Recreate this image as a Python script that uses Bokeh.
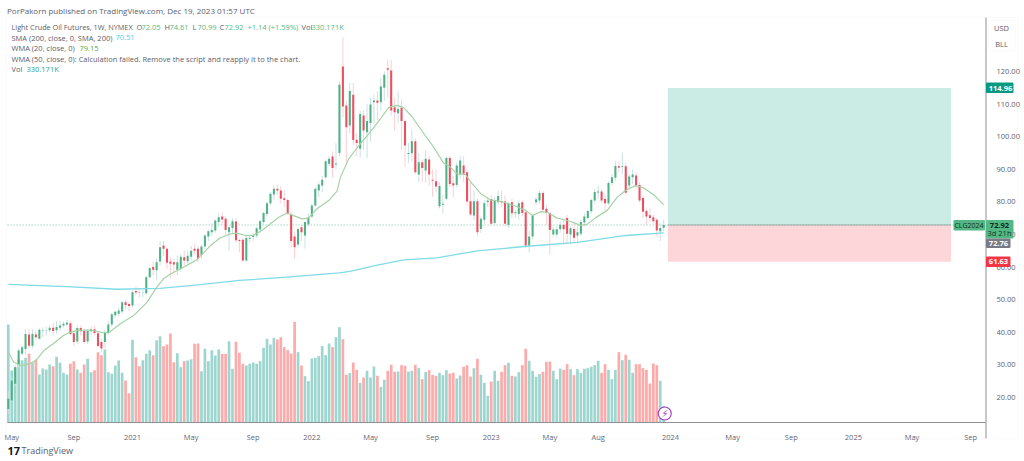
from bokeh.plotting import figure
from bokeh.embed import file_html
from bokeh.resources import INLINE
from bokeh.models import Range1d, FixedTicker, Label, BoxAnnotation, ColumnDataSource

opens = [16.5,19.1,24.2,30.3,33.4,34.9,39.3,35.9,39.3,38,
40.5,40.6,40.6,41.4,40.6,41.4,42.1,42.4,42.8,39.7,
37.2,41.3,40.4,37.2,40.3,40.9,39.7,37,37,39.8,
42.4,45.2,45.7,46.4,49.2,48.7,48.2,52.7,52.2,52.1,
52,56.9,60,59,61.7,66.6,65.6,61.7,61.5,59.2,
59.5,63,61.8,63.2,65.6,65.6,63.8,66.3,69.4,70.7,
71.2,73.8,75.5,74.8,70.7,72,74,68.3,68.4,62,
68.7,69.2,69.7,71.5,73.8,76.3,79.6,82.3,84,83.5,
81.1,80.6,76.1,69.4,66.9,72.2,69.7,73.1,75.5,78.9,
83.5,85,87.6,91.7,93.9,91.5,95,121.5,109.6,103.4,
112.9,99.1,96.3,106.5,101.4,104.2,110.6,111.1,110.6,115,
121,120.3,109,107.2,108.9,104.8,94.7,94.9,98.6,88.4,
92.2,89.6,93,86.8,86.3,78.7,79.1,81,93.5,85.7,
85.2,88.4,91.2,89.1,80.2,75.8,80.2,71.7,74.5,80,
80.9,73.5,79.9,80.2,80.1,72.9,79.9,76.5,76.3,79.9,
76.8,66.6,69.4,79.9,80.4,82.7,77.9,76.6,70,70,
71.6,73,75.1,70,71.7,69.7,70.2,73.7,75.1,77.1,
80.4,82.9,83.2,80.9,79.6,85.8,87.4,90.9,90.8,90.9,
85,87.6,88.1,85.2,81.2,77.2,75.9,75.3,74.5,71,72.05]

closes = [19.6,25.2,29.3,34.4,35.4,39.5,35.9,39.5,38.5,40.8,
40.6,40.7,41.4,40.4,41.6,42.1,42.6,43,39.5,37,
41.3,40.3,37,40.4,40.9,39.8,35.8,35,40,42.4,
45.5,46.3,46.7,49.2,48.4,48.1,52.3,52.2,52.1,52.2,
56.9,59.7,59.2,61.5,66.1,65.6,61.3,61,60.8,61.5,
63.2,62,63.5,65,65,62.5,66.3,69.7,71,71.4,
74.3,75.3,74.6,71.4,72.2,74.1,68.2,68,62,68.9,
69,69.7,71.9,74.1,76.6,79.6,82.5,84,83.5,81,
80.6,76.3,68,66.1,71.7,70.7,73.8,75.3,78.9,84,
85.3,86.8,92.5,93.2,90.4,91.8,115.9,109.3,102.9,114,
99,98.1,107,101.9,104.8,109.9,111.1,110.4,115.4,119,
120.5,108,107.5,108.5,104.8,97.3,95,98.6,89.1,92.2,
90.4,93.2,88.4,86.5,84.7,84.9,79.4,93.5,85.5,85,
91.2,92.7,88.6,80.1,76.1,80.2,70.7,74.8,79.6,80.4,
73.3,80.4,81.8,79.8,73.3,79.4,76.5,76.8,79.6,76.6,
66.6,69.4,75.8,80.7,82.7,77.6,76.6,71.4,71.5,71.6,
73,71.6,70.2,71.9,69,70.7,73.8,75.5,77.2,80.6,
83,83.2,80.4,79.6,85.8,87.6,91,90.5,91,82.8,
87.8,88.4,85,80.4,77,75.5,75.1,74.1,71.2,72,72.92]

highs = [22,26,30,35,36,41,41,41,40.5,41.2,
41.5,41.7,42.2,43,43.5,43.4,43.3,43.8,43.5,40,
42,42,41,41,41.8,42,40.3,38,40.7,43.5,
46,46.6,47.7,49.5,50,49.3,52.8,54,53.5,53,
57.4,60,61.5,62.8,67.8,68,66,63,62.5,63.5,
64,65,65,66.5,67,66.5,67,70.2,71.5,73.5,
74.6,76.5,76.8,75.5,72.5,75,75,68.8,69,70,
70,70.5,72.5,74.5,77,80,83,85,85.3,85,
83.5,81,77,71,72.2,73,74,76.5,79.5,84.5,
86,88,93,94,95.5,98,117,130.5,111,116.5,
116.5,101,108,108,110,112,113,114,118,120,
123.5,123.5,112,114,111.5,105,98,102,99.5,95,
93,96,94,90,90,86,82,94,94,88,
92,94,94,90,86,83.5,81,75.5,80.5,81.5,
82,81.5,83.5,83.5,82,80,81,77.5,80.5,80.5,
77.5,71,76.3,81.5,83.5,83.3,79,77,72.5,72.5,
74,75,76,72.5,74,73,74.5,76.5,77.7,81,
84,85,84,82,86.3,88.5,92.5,92.5,95.1,92,
88.5,90,89,86,82,78,78,76,75,73.5,74.61]

lows = [15,18.5,23.5,29,33,33,34.9,35,37.8,37.8,
38.5,39,40,39,39.5,40.5,41.5,41.8,39,35.8,
36.5,39,36.5,36.5,39,39,35.5,33.8,35,39.3,
41.7,44.5,45,45.7,47,46.5,47.7,51.5,50.7,50.8,
51.5,56.5,57.5,56,60.5,63.5,59.5,56.5,57.8,57.5,
58.5,60.5,61,62,64,61.5,62.5,65.5,68,69.5,
70.5,72.5,73,70,65,70.5,67.5,64.5,61.5,61.5,
67.5,68,69,70.5,73,75.5,79,80.5,82,79.5,
78.5,76,66,62.5,66,68,65.7,72.5,75,78.5,
81.5,83,87,91,87.5,90,94,106,92,101,
97.5,94,93.5,96,93.5,98.5,104,105,108,111,
112,106.5,101.8,104,96,90.8,92,92.5,88.5,86,
86,86,85,81.5,83,78,76.5,80.5,84.5,81.5,
84.5,87,86,79,75.5,74.5,69.5,70.5,73,78.5,
72.5,72.5,79,78.5,72.5,72,75,75,74.5,75.5,
65.8,64.5,68.5,79,79.5,77,73,63.7,69.3,69,
70.5,67,67.5,67,67.5,67.5,69.5,72.5,74.5,76.5,
79.5,81,79.5,77.5,79,85,86.5,89,88.5,82,
84,85.5,84,79.8,75,73,74,73,69.5,68,70.99]

volumes = [1960,1040,1107,1260,1247,1294,1374,1194,1260,960,
1080,1060,1160,1127,1314,1194,994,960,1174,1227,
1060,994,1160,1274,1007,1047,1407,1347,1460,1007,
974,1140,1240,994,840,587,1654,1307,1127,1247,
1374,1447,1347,1647,1727,1527,1560,1781,1207,1387,
1107,1227,1240,1267,1574,1581,1027,1474,1227,1447,
1340,1460,1374,1374,1627,1074,1614,1394,1174,1140,
1174,1200,1174,1227,1494,1674,1560,1694,1660,1707,
1507,1447,1380,2014,1407,1140,927,827,1280,1294,
1327,1527,1347,1581,1507,1707,1907,1667,954,987,
1200,1054,794,900,1034,900,1120,934,714,854,
1034,1154,1014,1020,1147,1134,1020,1034,1154,1087,
867,1014,1047,954,934,994,947,1047,980,994,
880,940,1114,1147,920,1087,1274,954,794,534,
820,1034,834,1014,1147,1194,934,920,1007,1147,
1474,1234,1034,914,967,1014,1214,1220,1034,867,
1080,1054,1167,1067,947,1067,994,1074,1087,1114,
1147,1234,994,1167,1054,867,1054,1407,1247,1354,
1254,994,1167,1167,1087,1054,780,1180,1147,834,330]

wma_week = [0,1.6,3.5,6,8,10.3,13,16,18,20,24,27,29,32.5,36.4,40.2,43,45,47,50,54.7,58.6,61.5,64.4,66.3,68.8,71,73.5,76,78.4,80.8,82.7,85.2,87,89.5,92.9,95.3,96.3,98.7,101.6,104.5,107.9,110.3,112.7,114.6,117,120.5,123.3,126.2,128.2,130.1,132.5,134.5,136.9,139.8,142.7,146.6,150,151.9,154.3,156.2,159,163,165.9,167.8,170.2,173.6,176.5,178.9,181.8,184.2,187.1,190]
wma_val = [33.9,30.8,29.8,30.3,31.3,34.4,36.5,39,40,40.6,40.7,40,39.8,42.6,45.2,49.2,53.8,56.4,57.9,59.5,62.3,66.6,69,70.2,70.4,69.7,69.7,71.2,73.3,75.3,76.6,75.8,74.8,75,77.9,80.4,83.3,87.6,93.2,97.3,100.9,105.5,109,109.6,108.9,106.2,100.9,96.8,91.9,90.6,88.6,88.4,85.5,82.6,80.6,80.2,78.9,77.4,75.8,77,76.8,75.1,74,72.8,73.1,75.1,77.4,81.4,83.5,85,84.3,82.2,79.15]

sma_week = [0,17,31.5,44,55.7,67,80.7,96,99,107,114.6,124.3,130,136,150.4,165,179,190]
sma_val = [54.7,54,53.2,53.5,54.6,55.9,56.9,58.2,58.7,60.6,62.2,62.8,63.9,65,66.4,67.6,69.7,70.51]

month_ticks = [1,19,36,53,71,88,105,123,140,157,171,192,210,227,245,262,279]
month_labels = ["May","Sep","2021","May","Sep","2022","May","Sep","2023","May","Aug","2024","May","Sep","2025","May","Sep"]
price_ticks = [120,110,100,90,80,70,60,50,40,30,20]
entry, target, stop, last_price = 72.92, 114.96, 61.63, 72.92
box_start, box_end = 191.2, 273.3

FONT = "Open Sans"
GREY = "#5d606b"
UP, DOWN = "#4fb286", "#ee4f5f"
UPW, DOWNW = "#c8e2e4", "#fad0d6"
UPV, DOWNV = "#9dd6cf", "#fdaaaa"

WIDTH, HEIGHT = 1024, 461
AXIS_PRICE = 12.33   # price at the time-axis line
AXIS_WEEK = 283.3    # week at the price-axis line
p = figure(width=WIDTH, height=HEIGHT, output_backend="svg", toolbar_location=None,
           x_range=Range1d(-2.262, 294.6), y_range=Range1d(0.368, 141.78),
           min_border_left=0, min_border_right=0, min_border_top=0, min_border_bottom=0,
           x_axis_location="below", y_axis_location="right")
p.background_fill_color = "white"
p.outline_line_color = None
p.grid.visible = False
p.extra_y_ranges = {"vol": Range1d(-780, 8440)}

xa = p.xaxis[0]
xa.fixed_location = AXIS_PRICE
xa.ticker = FixedTicker(ticks=month_ticks)
xa.major_label_overrides = {t: l for t, l in zip(month_ticks, month_labels)}
xa.major_tick_line_color = None
xa.minor_tick_line_color = None
xa.axis_line_color = None
xa.major_label_text_font = FONT
xa.major_label_text_font_size = "7.5px"
xa.major_label_text_color = GREY
xa.major_label_standoff = 3

ya = p.yaxis[0]
ya.fixed_location = AXIS_WEEK
ya.ticker = FixedTicker(ticks=price_ticks)
ya.major_label_overrides = {t: f"{t:.2f}" for t in price_ticks}
ya.major_tick_line_color = None
ya.minor_tick_line_color = None
ya.axis_line_color = None
ya.major_label_text_font = FONT
ya.major_label_text_font_size = "7.5px"
ya.major_label_text_color = GREY
ya.major_label_standoff = 5

weeks = list(range(len(closes)))
up = [c >= o for o, c in zip(opens, closes)]
src = ColumnDataSource(dict(
    x=weeks, o=opens, c=closes, h=highs, l=lows, v=volumes,
    top=[max(a, b) for a, b in zip(opens, closes)],
    bot=[min(a, b) for a, b in zip(opens, closes)],
    body=[UP if u else DOWN for u in up],
    wick=[UPW if u else DOWNW for u in up],
    vcol=[UPV if u else DOWNV for u in up]))

p.quad(left=box_start, right=box_end, bottom=entry, top=target, fill_color="#cbebe5", line_color=None)
p.quad(left=box_start, right=box_end, bottom=stop, top=entry, fill_color="#fdd6d9", line_color=None)
p.segment(x0=box_start, x1=box_end, y0=entry, y1=entry, line_color="#a8aaae", line_width=1)

p.vbar(x="x", width=0.78, bottom=0, top="v", source=src, y_range_name="vol", fill_color="vcol", line_color=None)
p.segment(x0=-0.2, x1=AXIS_WEEK, y0=last_price, y1=last_price, line_color="#57b98c", line_dash="1 2", line_width=0.8)
p.segment(x0="x", x1="x", y0="l", y1="h", source=src, line_color="wick", line_width=1)
p.vbar(x="x", width=0.6, bottom="bot", top="top", source=src, fill_color="body", line_color=None)
p.line(sma_week, sma_val, line_color="#7fdbe6", line_width=1.3)
p.line(wma_week, wma_val, line_color="#a4d3a6", line_width=1.2)

# axis lines
p.add_layout(BoxAnnotation(left=7, right=985, top=421.5, bottom=422.5, left_units="canvas", right_units="canvas",
                           top_units="canvas", bottom_units="canvas", fill_color="#8d8f99", fill_alpha=1, line_color=None))
p.add_layout(BoxAnnotation(left=985, right=986, top=17, bottom=438, left_units="canvas", right_units="canvas",
                           top_units="canvas", bottom_units="canvas", fill_color="#8d8f99", fill_alpha=1, line_color=None))

# flash icon over the last volume bar
p.scatter([190.3], [180], y_range_name="vol", size=13, fill_color="white", line_color="#a23fc4", line_width=1.2)

def txt(x, y, s, color=GREY, size="7.5px", bold=False, align="left", font=FONT):
    p.add_layout(Label(x=x, y=y, x_units="canvas", y_units="canvas", text=s, text_color=color,
                       text_font=font, text_font_size=size, text_align=align, text_baseline="middle",
                       text_font_style="bold" if bold else "normal"))

txt(664.5, 413, "\u26a1", "#a23fc4", size="10px", align="center", font="DejaVu Sans")

# panel frame
p.add_layout(BoxAnnotation(left=6, right=1017, top=17, bottom=438, left_units="canvas", right_units="canvas",
                           top_units="canvas", bottom_units="canvas", fill_color=None, fill_alpha=0,
                           line_color="#eeeef5", line_width=1))
p.add_layout(BoxAnnotation(left=988, right=1015, top=20, bottom=50, left_units="canvas", right_units="canvas",
                           top_units="canvas", bottom_units="canvas", fill_color="white", fill_alpha=1,
                           line_color="#eeeef2", line_width=1, border_radius=3))

txt(6.5, 9.5, "PorPakorn published on TradingView.com, Dec 19, 2023 01:57 UTC", size="8px")
txt(11, 26.5, "Light Crude Oil Futures, 1W, NYMEX", size="7.3px")
VG = "#53b987"
for x, s, c in [(136, "O", GREY), (141, "72.05", VG), (164, "H", GREY), (169, "74.61", VG), (192, "L", GREY), (197, "70.99", VG),
                (219, "C", GREY), (224, "72.92", VG), (247, "+1.14 (+1.59%)", VG), (301, "Vol", GREY), (311, "330.171K", VG)]:
    txt(x, 26.5, s, c)
txt(11, 37, "SMA (200, close, 0, SMA, 200)")
txt(115, 37, "70.51", "#3fd0ee")
txt(11, 47.5, "WMA (20, close, 0)")
txt(79, 47.5, "79.15", "#4caf50")
txt(11, 58, "WMA (50, close, 0): Calculation failed. Remove the script and reapply it to the chart.")
txt(11, 68.5, "Vol")
txt(26, 68.5, "330.171K", "#26a69a")

def tag(l, r, t, b, color):
    p.add_layout(BoxAnnotation(left=l, right=r, top=t, bottom=b, left_units="canvas", right_units="canvas",
                               top_units="canvas", bottom_units="canvas", fill_color=color, fill_alpha=1,
                               line_color=None, border_radius=1))

tag(985.5, 1013, 82, 92.5, "#089981")
tag(953, 984.5, 219.5, 230, "#52b785")
tag(985.5, 1013, 219.5, 238, "#52b785")
tag(985.5, 1010, 238, 247.5, "#787b86")
tag(985.5, 1010, 256, 266.5, "#f23645")

txt(1001, 27.5, "USD", align="center")
txt(1001, 43, "BLL", align="center")
txt(1000, 87.5, "114.96", "white", bold=True, align="center")
txt(968.5, 225, "CLG2024", "#12301f", size="7px", align="center")
txt(999, 225, "72.92", "#12261c", align="center", bold=True)
txt(999, 232.5, "3d 21h", "#12301f", align="center")
txt(998, 243, "72.76", "white", bold=True, align="center")
txt(998, 261.3, "61.63", "white", bold=True, align="center")

txt(7, 450, "17", "#131722", size="11px", bold=True)
txt(21, 450, "TradingView", "#5d606b", size="9px")

open("out.html", "w").write(file_html(p, INLINE))
